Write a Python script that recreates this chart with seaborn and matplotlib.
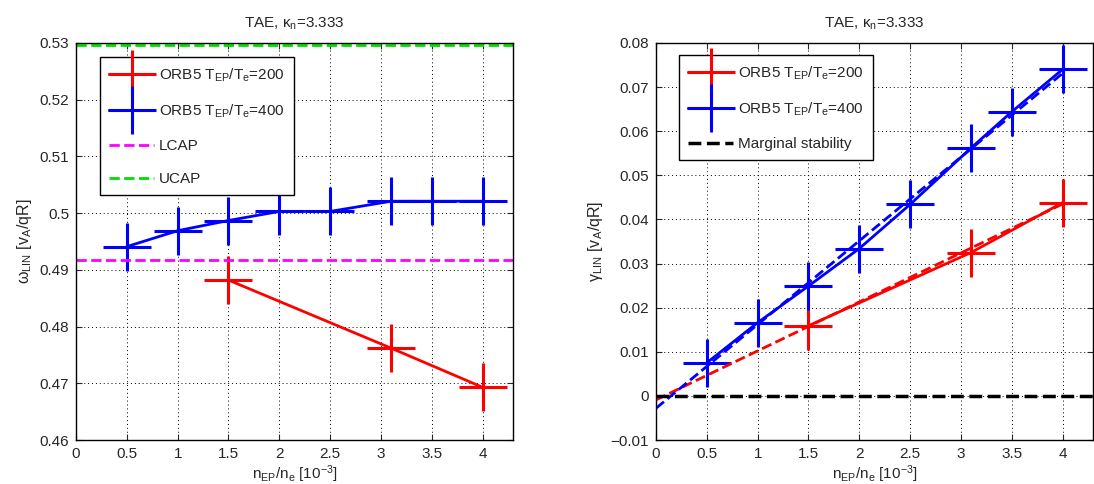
import matplotlib
matplotlib.use("Agg")
import matplotlib.pyplot as plt
import matplotlib.ticker as mticker
import seaborn as sns
import pandas as pd

# Donnees
n_ep_400 = [0.5, 1.0, 1.5, 2.0, 2.5, 3.1, 3.5, 4.0]
n_ep_200 = [1.5, 3.1, 4.0]
omega_400 = [0.4941, 0.4969, 0.4987, 0.5003, 0.5003, 0.5021, 0.5021, 0.5021]
omega_200 = [0.4882, 0.4762, 0.4693]
gamma_400 = [0.0075, 0.0166, 0.0249, 0.0334, 0.0434, 0.0562, 0.0644, 0.0740]
gamma_200 = [0.0159, 0.0325, 0.0438]
lcap = 0.4918
ucap = 0.5296
fit_x = [0.0, 4.0]
fit_400 = [-0.0028, 0.0731]
fit_200 = [-0.0009, 0.0435]

sns.set_style("ticks")
plt.rcParams["font.family"] = ["Liberation Sans", "DejaVu Sans"]
plt.rcParams["mathtext.default"] = "regular"
plt.rcParams["font.size"] = 9

df400 = pd.DataFrame({"x": n_ep_400, "omega": omega_400, "gamma": gamma_400})
df200 = pd.DataFrame({"x": n_ep_200, "omega": omega_200, "gamma": gamma_200})

fig = plt.figure(figsize=(10.94, 4.84), dpi=100)
ax1 = fig.add_axes([76 / 1094, 44 / 484, 437 / 1094, 397 / 484])
ax2 = fig.add_axes([656 / 1094, 44 / 484, 437 / 1094, 397 / 484])

mk = dict(marker="+", markersize=34, markeredgewidth=2.2, linewidth=2)
lab200 = "ORB5 T$_{EP}$/T$_e$=200"
lab400 = "ORB5 T$_{EP}$/T$_e$=400"

# Frequence
sns.lineplot(data=df200, x="x", y="omega", ax=ax1, color="red", markeredgecolor="red",
             label=lab200, estimator=None, sort=False, **mk)
sns.lineplot(data=df400, x="x", y="omega", ax=ax1, color="blue", markeredgecolor="blue",
             label=lab400, estimator=None, sort=False, **mk)
ax1.axhline(lcap, color="magenta", ls="--", lw=2, label="LCAP")
ax1.axhline(ucap, color="#00dd00", ls="--", lw=2, label="UCAP")
ax1.set_ylim(0.46, 0.53)
ax1.set_yticks([0.46, 0.47, 0.48, 0.49, 0.50, 0.51, 0.52, 0.53])
ax1.set_ylabel("ω$_{LIN}$ [v$_A$/qR]")

# Taux de croissance
sns.lineplot(data=df200, x="x", y="gamma", ax=ax2, color="red", markeredgecolor="red",
             label=lab200, estimator=None, sort=False, **mk)
sns.lineplot(data=df400, x="x", y="gamma", ax=ax2, color="blue", markeredgecolor="blue",
             label=lab400, estimator=None, sort=False, **mk)
ax2.plot(fit_x, fit_200, color="red", ls="--", lw=2)
ax2.plot(fit_x, fit_400, color="blue", ls="--", lw=2)
ax2.axhline(0, color="black", ls="--", lw=2.5, label="Marginal stability")
ax2.set_ylim(-0.01, 0.08)
ax2.set_yticks([-0.01, 0, 0.01, 0.02, 0.03, 0.04, 0.05, 0.06, 0.07, 0.08])
ax2.set_ylabel("γ$_{LIN}$ [v$_A$/qR]")

fmt = mticker.FuncFormatter(lambda v, p: ("%g" % round(v, 4)).replace("-", "\u2212"))
for ax, anchor in [(ax1, (100 / 1094, 1 - 57 / 484)), (ax2, (679 / 1094, 1 - 55 / 484))]:
    ax.set_xlim(0, 4.3)
    ax.set_xticks([0, 0.5, 1, 1.5, 2, 2.5, 3, 3.5, 4])
    ax.xaxis.set_major_formatter(fmt)
    ax.yaxis.set_major_formatter(fmt)
    ax.set_xlabel("n$_{EP}$/n$_e$ [10$^{-3}$]", labelpad=2)
    ax.set_title("TAE, κ$_n$=3.333", fontsize=11, pad=11)
    ax.grid(True, linestyle=(0, (1, 3)), color="black", linewidth=0.7)
    ax.tick_params(direction="in", top=True, right=True, length=4, labelsize=11, pad=5)
    for s in ax.spines.values():
        s.set_linewidth(1)
        s.set_color("black")
    ax.xaxis.label.set_size(11)
    ax.yaxis.label.set_size(11.5)
    leg = ax.legend(loc="upper left", bbox_to_anchor=anchor, bbox_transform=fig.transFigure,
                    fontsize=11, fancybox=False, framealpha=1, edgecolor="black",
                    handlelength=2.95, handletextpad=0.3, labelspacing=1.25,
                    borderpad=0.6, borderaxespad=0)
    leg.get_frame().set_linewidth(1)

fig.savefig("out.png", dpi=100)
